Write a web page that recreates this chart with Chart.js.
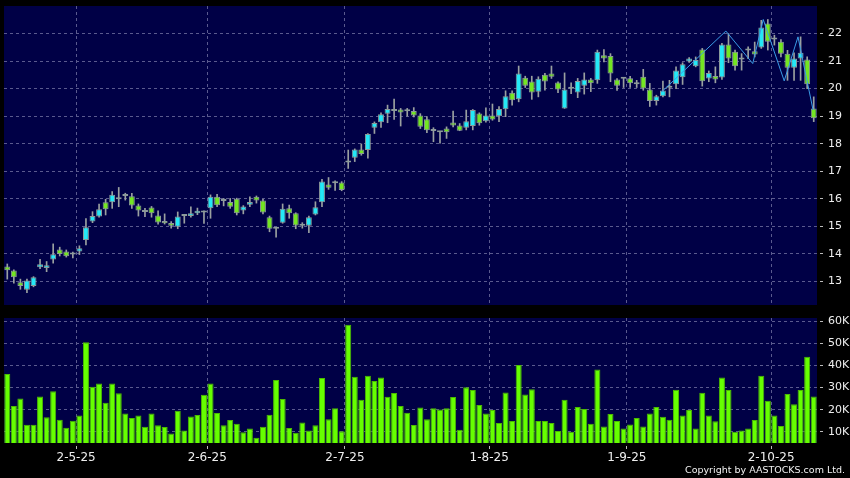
<!DOCTYPE html>
<html>
<head>
<meta charset="utf-8">
<script src="https://cdn.jsdelivr.net/npm/chart.js@4.4.1/dist/chart.umd.min.js"></script>
<style>
  html, body { margin: 0; padding: 0; background: #000; }
  #wrap { position: relative; width: 850px; height: 478px; overflow: hidden; background: #000; }
  #price { position: absolute; left: 0; top: 0; }
  #volume { position: absolute; left: 0; top: 310px; }
  #copy { position: absolute; right: 5px; top: 464px; font: 9.5px "DejaVu Sans", sans-serif; color: #f2f2f2; }
</style>
</head>
<body>
<div id="wrap">
  <canvas id="price" width="850" height="310"></canvas>
  <canvas id="volume" width="850" height="168"></canvas>
  <div id="copy">Copyright by AASTOCKS.com Ltd.</div>
</div>
<script>
// daily candles, one per trading day (mid-Apr to mid-Oct 2025)
const opens = [13.54,13.39,12.97,12.69,12.83,13.51,13.48,13.79,14.16,14.08,13.97,14.08,14.50,15.17,15.35,15.87,15.87,15.98,16.10,16.09,
  15.75,15.52,15.68,15.39,15.19,15.12,14.98,15.37,15.37,15.47,15.50,15.65,16.07,15.92,15.88,16.00,15.57,15.78,16.07,15.94,
  15.33,14.91,15.13,15.65,15.47,15.02,15.02,15.43,15.87,16.52,16.56,16.59,17.32,17.49,17.79,17.77,18.58,18.78,19.09,19.19,
  19.24,19.18,19.19,19.02,18.89,18.46,18.41,18.55,18.77,18.66,18.58,18.64,19.10,18.81,19.02,19.00,19.25,19.85,19.61,20.39,
  20.26,19.89,20.50,20.55,20.22,19.28,19.99,19.86,20.10,20.33,20.30,21.21,21.18,20.33,20.36,20.38,20.16,20.43,19.97,19.55,
  19.72,20.03,20.16,20.41,20.98,20.81,21.42,20.37,20.46,20.40,21.60,21.34,21.06,21.38,21.36,21.49,22.36,21.78,21.70,21.27,
  20.76,21.09,21.06,19.28];
const closes = [13.40,13.15,12.83,13.03,13.15,13.62,13.58,13.98,13.99,13.91,13.97,14.20,14.96,15.37,15.62,15.62,16.14,15.98,16.10,15.75,
  15.57,15.52,15.47,15.14,15.11,15.02,15.35,15.37,15.47,15.56,15.50,16.07,15.76,15.92,15.71,15.47,15.72,15.88,15.94,15.50,
  14.91,14.91,15.64,15.47,15.03,15.02,15.33,15.69,16.63,16.40,16.56,16.32,17.32,17.79,17.62,18.35,18.75,19.07,19.26,19.19,
  19.13,19.18,19.02,18.61,18.49,18.46,18.41,18.41,18.66,18.47,18.81,19.22,18.74,19.02,18.88,19.26,19.72,19.58,20.55,20.10,
  19.86,20.36,20.26,20.43,19.97,19.97,19.99,20.28,20.33,20.19,21.34,21.09,20.55,20.10,20.36,20.19,20.16,20.00,19.55,19.72,
  19.93,20.03,20.66,20.88,21.09,21.04,20.27,20.57,20.33,21.60,21.09,20.81,21.06,21.38,21.24,22.22,21.70,21.78,21.27,20.76,
  21.09,21.30,20.16,18.92];
const highs = [13.63,13.42,13.08,13.08,13.17,13.80,13.72,14.36,14.24,14.14,14.06,14.29,15.28,15.53,15.81,15.98,16.26,16.41,16.20,16.20,
  15.81,15.65,15.72,15.56,15.45,15.17,15.52,15.41,15.71,15.66,15.56,16.14,16.16,16.01,16.01,16.02,15.75,16.07,16.10,15.98,
  15.37,14.93,15.81,15.77,15.49,15.13,15.37,15.89,16.70,16.77,16.65,16.62,17.77,17.81,17.99,18.37,18.79,19.12,19.40,19.62,
  19.28,19.28,19.31,19.09,18.98,18.58,18.43,18.61,19.18,18.73,19.22,19.24,19.12,19.30,19.44,19.35,19.92,19.92,20.82,20.45,
  20.45,20.43,20.55,20.82,20.25,20.57,20.21,20.37,20.57,20.37,21.40,21.42,21.27,20.36,20.40,20.45,20.30,20.70,20.19,19.76,
  20.27,20.30,20.79,20.94,21.13,21.15,21.46,20.64,20.79,21.64,22.00,21.40,21.27,21.52,21.69,22.48,22.51,21.94,21.78,21.39,
  21.30,21.88,21.15,19.70];
const lows = [13.08,12.93,12.71,12.59,12.80,13.46,13.35,13.66,13.92,13.88,13.85,13.97,14.32,15.13,15.33,15.41,15.65,15.71,15.95,15.65,
  15.37,15.35,15.33,15.08,15.08,14.93,14.91,15.11,15.33,15.42,15.10,15.29,15.71,15.74,15.65,15.41,15.45,15.71,15.84,15.45,
  14.80,14.60,15.11,15.29,14.91,14.93,14.77,15.41,15.71,16.34,16.30,16.29,17.10,17.35,17.58,17.47,18.37,18.59,18.76,18.88,
  18.64,19.00,18.97,18.55,18.40,18.07,18.02,18.19,18.61,18.47,18.50,18.50,18.67,18.78,18.85,18.80,18.98,19.40,19.52,20.04,
  19.61,19.70,19.94,20.37,19.85,19.28,19.82,19.67,19.80,19.89,20.19,20.97,20.25,19.93,20.04,20.04,20.04,19.94,19.35,19.40,
  19.70,19.70,20.00,20.15,20.95,20.79,20.09,20.25,20.21,20.33,20.94,20.67,20.67,21.09,21.15,21.46,21.40,21.58,21.15,20.30,
  20.30,20.30,20.00,18.80];
// volume in thousands
const volK = [36.1,21.6,25.0,13.2,13.2,26.0,16.6,28.3,15.4,11.8,15.0,17.3,50.5,30.4,31.9,23.1,31.8,27.4,18.2,16.2,
  17.3,12.3,18.3,12.9,12.1,9.2,19.5,10.6,16.9,17.6,26.8,31.9,18.5,12.9,15.3,13.6,9.7,11.4,7.3,12.3,
  17.7,33.4,24.8,11.7,9.5,14.2,10.5,12.9,34.3,15.7,20.6,10.2,58.5,34.9,24.5,35.4,33.0,34.6,25.9,27.5,
  21.6,18.6,13.0,21.0,15.7,20.6,20.1,20.6,25.7,10.9,30.2,28.9,22.1,18.2,19.8,13.9,27.8,14.8,40.2,26.9,
  29.2,14.8,14.8,13.9,10.3,24.5,10.0,21.2,20.3,13.6,38.2,12.4,18.0,14.8,11.4,13.3,16.2,12.4,18.2,21.2,
  16.8,15.4,29.0,17.4,19.8,11.5,27.7,17.4,14.7,34.6,28.9,10.0,10.6,11.4,15.3,35.4,24.0,17.4,12.6,27.1,
  22.5,28.9,44.0,26.0];
// zig-zag overlay line (bar position, price)
const zzX = [99.8, 109.6, 113.7, 115.3, 118.5, 120.6, 122.9];
const zzY = [19.88, 22.09, 20.91, 22.51, 20.28, 21.88, 19.22];
// first trading day of each month, and its label
const monthStart = [11, 31, 52, 74, 95, 117];
const monthLabels = ['2-5-25', '2-6-25', '2-7-25', '1-8-25', '1-9-25', '2-10-25'];
const priceTicks = [13, 14, 15, 16, 17, 18, 19, 20, 21, 22];
const volTicks = [10, 20, 30, 40, 50, 60];

const n = opens.length;
const NAVY = '#000046';
const GRID = '#5a5a8e';
const UP = '#24e8f6';
const DOWN = '#74e622';
const FLAT = '#8e9c9c';

Chart.defaults.font.family = '"DejaVu Sans", sans-serif';
Chart.defaults.color = '#eeeeee';

const plotBg = {
  id: 'plotBg',
  beforeDraw(chart) {
    const a = chart.chartArea, ctx = chart.ctx;
    ctx.save();
    ctx.fillStyle = NAVY;
    ctx.fillRect(a.left, a.top, a.right - a.left, a.bottom - a.top);
    ctx.restore();
  }
};

function gridX(showLabels) {
  return {
    type: 'linear', min: -0.5, max: n - 0.5, offset: false,
    afterBuildTicks: s => { s.ticks = monthStart.map(i => ({ value: i - 0.5 })); },
    ticks: { display: showLabels, padding: 2, autoSkip: false, maxRotation: 0,
      font: { size: 12 }, callback: (v, k) => monthLabels[k] },
    grid: { offset: false, color: GRID, drawTicks: showLabels, tickLength: 6, tickColor: '#bbbbbb',
      tickBorderDash: [0, 3, 3, 3] },
    border: { display: false, dash: [3, 3] },
    afterFit: s => { s.height = showLabels ? 35 : 0; s.paddingLeft = 0; s.paddingRight = 0; }
  };
}

function rightY(min, max, ticks, fmt) {
  return {
    position: 'right', min: min, max: max,
    afterBuildTicks: s => { s.ticks = ticks.map(v => ({ value: v })); },
    ticks: { padding: 5, font: { size: 11 }, callback: fmt },
    grid: { color: GRID, tickLength: 6, tickColor: '#bbbbbb', tickBorderDash: [0, 3, 3, 3] },
    border: { display: false, dash: [3, 3] },
    afterFit: s => { s.width = 33; s.paddingTop = 0; s.paddingBottom = 0; }
  };
}

const bodyColors = opens.map((o, i) => closes[i] > o ? UP : (closes[i] < o ? DOWN : FLAT));

new Chart(document.getElementById('price'), {
  type: 'bar',
  data: {
    datasets: [
      {
        type: 'line', order: 0,
        data: zzX.map((x, k) => ({ x: x, y: zzY[k] })),
        borderColor: '#3a9be6', borderWidth: 1, pointRadius: 0, tension: 0
      },
      {
        order: 1, grouped: false,
        data: opens.map((o, i) => ({ x: i, y: [o, closes[i]] })),
        backgroundColor: bodyColors, borderColor: '#8c9a9a', borderWidth: 1,
        borderSkipped: false, minBarLength: 2,
        categoryPercentage: 1, barPercentage: 0.9
      },
      {
        order: 2, grouped: false,
        data: lows.map((l, i) => ({ x: i, y: [l, highs[i]] })),
        backgroundColor: '#9aa0a0', borderWidth: 0, barThickness: 1
      }
    ]
  },
  options: {
    responsive: false, animation: false,
    layout: { padding: { left: 4, top: 6, right: 0, bottom: 5 } },
    plugins: { legend: { display: false }, tooltip: { enabled: false } },
    scales: {
      x: gridX(false),
      y: rightY(12.14, 23, priceTicks, v => v)
    }
  },
  plugins: [plotBg]
});

new Chart(document.getElementById('volume'), {
  type: 'bar',
  data: {
    datasets: [{
      data: volK.map((v, i) => ({ x: i, y: v })),
      backgroundColor: '#66ff00', borderColor: '#4cba00', borderWidth: 1,
      categoryPercentage: 1, barPercentage: 0.92
    }]
  },
  options: {
    responsive: false, animation: false,
    layout: { padding: { left: 4, top: 8, right: 0, bottom: 0 } },
    plugins: { legend: { display: false }, tooltip: { enabled: false } },
    scales: {
      x: gridX(true),
      y: rightY(4.88, 61.54, volTicks, v => v + 'K')
    }
  },
  plugins: [plotBg]
});
</script>
</body>
</html>
